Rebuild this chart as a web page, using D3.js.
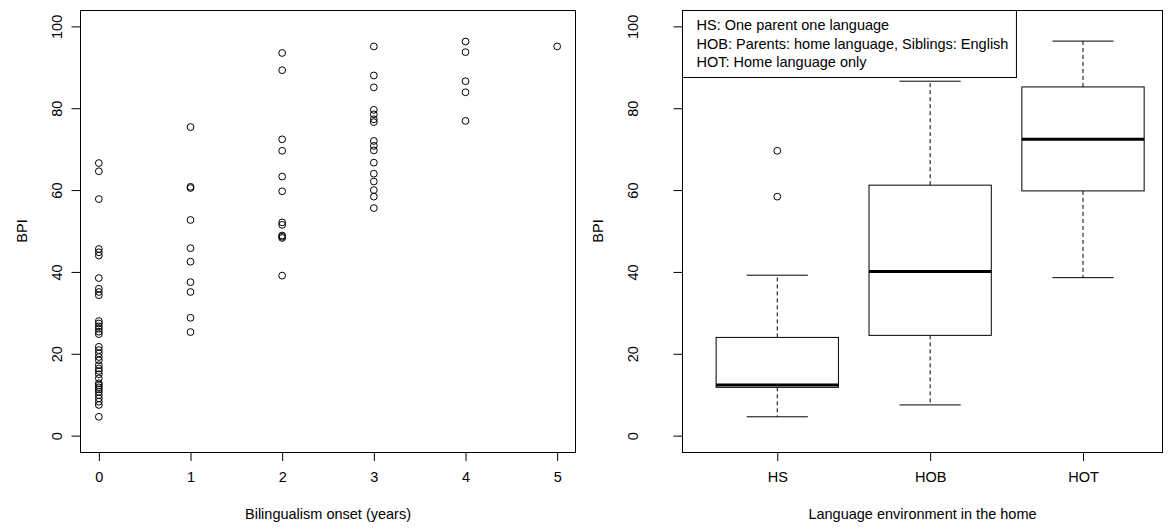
<!DOCTYPE html>
<html>
<head>
<meta charset="utf-8">
<script src="https://cdn.jsdelivr.net/npm/d3@7"></script>
<style>
  html, body { margin: 0; padding: 0; background: #fff; }
  svg { display: block; font-family: "Liberation Sans", Arial, sans-serif; }
</style>
</head>
<body>
<svg id="chart" width="1173" height="529"></svg>
<script>
// ---- data: left panel, BPI by onset year ----
const onsetYears = [0, 1, 2, 3, 4, 5];
const bpiOnset0 = [66.6, 64.6, 57.8, 45.6, 44.8, 44.0, 38.5, 35.9, 35.1, 34.3,
  28.0, 27.4, 26.7, 26.1, 25.4, 24.8, 21.7, 20.9, 20.1, 19.2, 18.4, 17.2, 16.4,
  15.8, 15.0, 14.0, 12.8, 12.3, 11.8, 11.3, 10.7, 9.9, 9.1, 8.3, 7.5, 4.6];
const bpiOnset1 = [75.4, 60.8, 60.5, 52.7, 45.8, 42.5, 37.5, 35.1, 28.8, 25.3];
const bpiOnset2 = [93.5, 89.3, 72.4, 69.6, 63.3, 59.7, 52.1, 51.5, 48.9, 48.6, 48.3, 39.1];
const bpiOnset3 = [95.1, 88.0, 85.1, 79.6, 78.5, 77.3, 76.6, 72.0, 70.8, 69.7,
  66.7, 64.0, 62.1, 60.0, 58.4, 55.6];
const bpiOnset4 = [96.3, 93.7, 86.6, 83.9, 76.9];
const bpiOnset5 = [95.1];

// ---- data: right panel, box statistics by home language environment ----
const homeGroups = ["HS", "HOB", "HOT"];
const whiskerLow  = [4.6, 7.5, 38.6];
const quartile1   = [11.8, 24.5, 59.8];
const medians     = [12.4, 40.1, 72.4];
const quartile3   = [24.0, 61.2, 85.2];
const whiskerHigh = [39.2, 86.6, 96.4];
const outliers    = [[58.4, 69.6], [], []];

const legendLines = [
  "HS: One parent one language",
  "HOB: Parents: home language, Siblings: English",
  "HOT: Home language only"
];
const yTicks = [0, 20, 40, 60, 80, 100];

// ---- layout ----
const svg = d3.select("#chart");
const FS = 14.5;
const plotTop = 10, plotBottom = 452;
// labelGap: baseline of rotated tick labels, titleGap: baseline of y title
const leftBox = { x0: 80.5, x1: 575.5, labelGap: 19, titleGap: 54 };
const rightBox = { x0: 682.5, x1: 1162.5, labelGap: 45, titleGap: 80 };

const y = d3.scaleLinear().domain([-4, 104]).range([plotBottom, plotTop]);

function yAxis(g, box) {
  const ax = g.append("g").attr("transform", `translate(${box.x0},0)`)
    .call(d3.axisLeft(y).tickValues(yTicks).tickSize(9).tickSizeOuter(0));
  ax.select(".domain").remove();
  ax.selectAll(".tick line").attr("stroke", "#000");
  ax.selectAll(".tick text")
    .attr("x", 0).attr("y", -box.labelGap).attr("dy", 0)
    .attr("transform", "rotate(-90)")
    .attr("text-anchor", "middle")
    .style("font-size", FS + "px").style("fill", "#000");
  g.append("text")
    .attr("transform", `translate(${box.x0 - box.titleGap},${(plotTop + plotBottom) / 2}) rotate(-90)`)
    .attr("text-anchor", "middle")
    .style("font-size", FS + "px").text("BPI");
}

function xAxis(g, scale, ticks, title, box) {
  const ax = g.append("g").attr("transform", `translate(0,${plotBottom})`)
    .call(d3.axisBottom(scale).tickValues(ticks).tickSize(9).tickPadding(11)
      .tickSizeOuter(0).tickFormat(d => d));
  ax.select(".domain").remove();
  ax.selectAll(".tick line").attr("stroke", "#000");
  ax.selectAll(".tick text").style("font-size", FS + "px").style("fill", "#000");
  g.append("text")
    .attr("x", (box.x0 + box.x1) / 2).attr("y", plotBottom + 67)
    .attr("text-anchor", "middle")
    .style("font-size", FS + "px").text(title);
}

function frame(g, box) {
  g.append("rect")
    .attr("x", box.x0).attr("y", plotTop + 0.5)
    .attr("width", box.x1 - box.x0).attr("height", plotBottom - plotTop)
    .attr("fill", "none").attr("stroke", "#000");
}

// ================= left: scatter =================
const gl = svg.append("g");
const xOnset = d3.scaleLinear().domain([-0.2, 5.2]).range([leftBox.x0, leftBox.x1]);
const onsetValues = [bpiOnset0, bpiOnset1, bpiOnset2, bpiOnset3, bpiOnset4, bpiOnset5];
const points = onsetYears.flatMap((yr, i) => onsetValues[i].map(v => ({ yr, v })));

gl.selectAll("circle").data(points).join("circle")
  .attr("cx", d => xOnset(d.yr))
  .attr("cy", d => y(d.v))
  .attr("r", 3.4)
  .attr("fill", "none").attr("stroke", "#000").attr("stroke-width", 1);

frame(gl, leftBox);
yAxis(gl, leftBox);
xAxis(gl, xOnset, onsetYears, "Bilingualism onset (years)", leftBox);

// ================= right: boxplot =================
const gr = svg.append("g");
const xPos = d3.scaleLinear().domain([0.38, 3.52]).range([rightBox.x0, rightBox.x1]);
const xGroup = d => xPos(homeGroups.indexOf(d) + 1);
const halfBox = xPos(1.4) - xPos(1);
const halfCap = halfBox / 2;

const boxes = homeGroups.map((k, i) => ({
  k, lo: whiskerLow[i], q1: quartile1[i], med: medians[i], q3: quartile3[i], hi: whiskerHigh[i], out: outliers[i]
}));

const bg = gr.selectAll("g.box").data(boxes).join("g").attr("class", "box");

// whiskers (dashed)
bg.append("line")
  .attr("x1", d => xGroup(d.k)).attr("x2", d => xGroup(d.k))
  .attr("y1", d => y(d.q3)).attr("y2", d => y(d.hi))
  .attr("stroke", "#000").attr("stroke-dasharray", "4,3");
bg.append("line")
  .attr("x1", d => xGroup(d.k)).attr("x2", d => xGroup(d.k))
  .attr("y1", d => y(d.q1)).attr("y2", d => y(d.lo))
  .attr("stroke", "#000").attr("stroke-dasharray", "4,3");
// staples
bg.append("line")
  .attr("x1", d => xGroup(d.k) - halfCap).attr("x2", d => xGroup(d.k) + halfCap)
  .attr("y1", d => y(d.hi)).attr("y2", d => y(d.hi))
  .attr("stroke", "#000");
bg.append("line")
  .attr("x1", d => xGroup(d.k) - halfCap).attr("x2", d => xGroup(d.k) + halfCap)
  .attr("y1", d => y(d.lo)).attr("y2", d => y(d.lo))
  .attr("stroke", "#000");
// boxes
bg.append("rect")
  .attr("x", d => xGroup(d.k) - halfBox)
  .attr("y", d => y(d.q3))
  .attr("width", halfBox * 2)
  .attr("height", d => y(d.q1) - y(d.q3))
  .attr("fill", "#fff").attr("stroke", "#000");
// medians
bg.append("line")
  .attr("x1", d => xGroup(d.k) - halfBox).attr("x2", d => xGroup(d.k) + halfBox)
  .attr("y1", d => y(d.med)).attr("y2", d => y(d.med))
  .attr("stroke", "#000").attr("stroke-width", 3);
// outliers
bg.selectAll("circle").data(d => d.out.map(v => ({ k: d.k, v }))).join("circle")
  .attr("cx", d => xGroup(d.k)).attr("cy", d => y(d.v))
  .attr("r", 3.4).attr("fill", "none").attr("stroke", "#000");

frame(gr, rightBox);
yAxis(gr, rightBox);
const xBand = d3.scalePoint().domain(homeGroups).range([xPos(1), xPos(3)]);
xAxis(gr, xBand, homeGroups, "Language environment in the home", rightBox);

// legend
const lg = gr.append("g");
const lgText = lg.selectAll("text").data(legendLines).join("text")
  .attr("x", rightBox.x0 + 14)
  .attr("y", (d, i) => plotTop + 15 + i * 18.5)
  .attr("dominant-baseline", "central")
  .style("font-size", FS + "px")
  .text(d => d);
const lgW = d3.max(lgText.nodes(), n => n.getComputedTextLength()) + 22;
lg.insert("rect", "text")
  .attr("x", rightBox.x0).attr("y", plotTop + 0.5)
  .attr("width", lgW).attr("height", 67)
  .attr("fill", "#fff").attr("stroke", "#000");
</script>
</body>
</html>
